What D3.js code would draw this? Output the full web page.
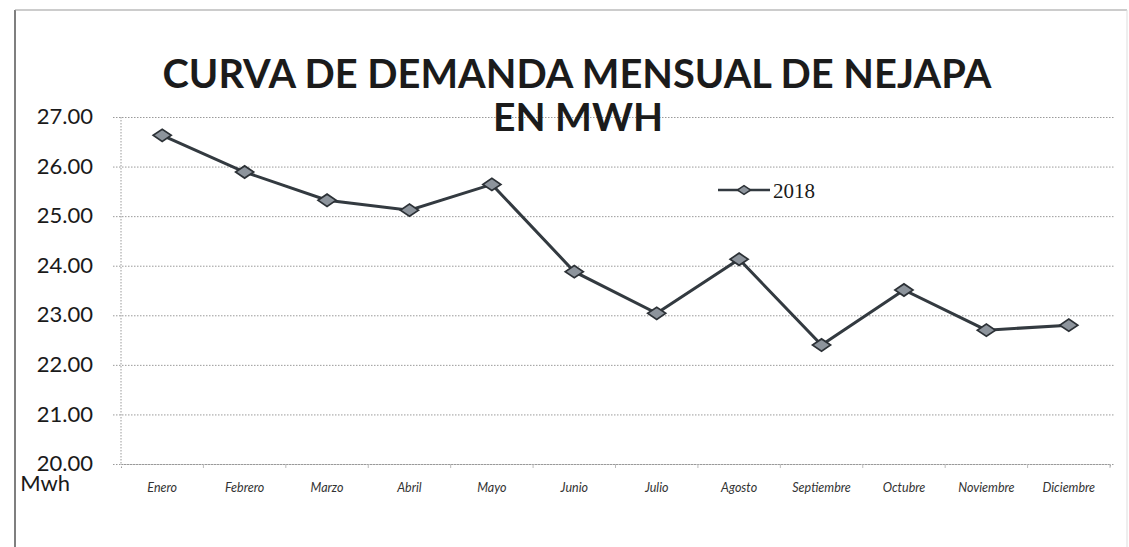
<!DOCTYPE html>
<html><head><meta charset="utf-8">
<script src="https://cdn.jsdelivr.net/npm/d3@7"></script>
<style>html,body{margin:0;padding:0;background:#fff;}svg{display:block;}</style>
</head><body>
<svg id="c" width="1129" height="547"></svg>
<script>
const months = ["Enero","Febrero","Marzo","Abril","Mayo","Junio","Julio","Agosto","Septiembre","Octubre","Noviembre","Diciembre"];
const values2018 = [26.63,25.89,25.32,25.12,25.64,23.88,23.04,24.13,22.40,23.51,22.70,22.80];
const yTicks = [20,21,22,23,24,25,26,27];
const seriesName = "2018";
const titleLines = ["CURVA DE DEMANDA MENSUAL DE NEJAPA","EN MWH"];
const yUnit = "Mwh";

const svg = d3.select("#c");
const mLeft = 121, mRight = 1110, mTop = 117, mBottom = 464;

// frame
svg.append("line").attr("x1",15).attr("x2",15).attr("y1",10).attr("y2",547).attr("stroke","#555").attr("stroke-width",1.5);
svg.append("line").attr("x1",15).attr("x2",1127).attr("y1",10).attr("y2",10).attr("stroke","#999").attr("stroke-width",1.2);
svg.append("line").attr("x1",1127).attr("x2",1127).attr("y1",10).attr("y2",547).attr("stroke","#ddd").attr("stroke-width",1);

const x = d3.scaleBand().domain(months).range([mLeft,mRight]);
const y = d3.scaleLinear().domain([20,27]).range([mBottom,mTop]);

// gridlines
const grid = svg.append("g").attr("transform",`translate(${mLeft},0)`)
  .call(d3.axisLeft(y).tickValues(yTicks).tickSize(-(mRight-mLeft+5)).tickFormat(""));
grid.select(".domain").remove();
grid.selectAll(".tick line").attr("stroke","#9a9a9a").attr("stroke-width",1).attr("stroke-dasharray","1.5,1.5").attr("x1",-8);

// y axis line
svg.append("line").attr("x1",mLeft).attr("x2",mLeft).attr("y1",mTop).attr("y2",mBottom).attr("stroke","#9a9a9a").attr("stroke-dasharray","1.5,1.5");

// y labels
const yl = svg.append("g").attr("transform",`translate(93,0)`)
  .call(d3.axisLeft(y).tickValues(yTicks).tickSize(0).tickPadding(0).tickFormat(d3.format(".2f")));
yl.select(".domain").remove();
yl.selectAll("text").attr("font-family","Lato, sans-serif").attr("font-size",22).attr("fill","#1a1a1a").attr("dy","0.3em");
// unit label as second line of the lowest tick label
yl.selectAll(".tick").filter(d => d === yTicks[0]).select("text")
  .append("tspan").attr("x",-23).attr("dy",19.5).text(yUnit);

// x axis
const xa = svg.append("g").attr("transform",`translate(0,${mBottom})`)
  .call(d3.axisBottom(x).tickSize(4).tickPadding(15));
xa.select(".domain").attr("stroke","#9a9a9a").attr("stroke-dasharray","1.5,1.5");
xa.selectAll(".tick line").attr("stroke","#bbb").attr("transform",`translate(${x.bandwidth()/2},0)`);
xa.selectAll("text").attr("font-family","Lato, sans-serif").attr("font-size",12.5).attr("font-style","italic").attr("fill","#333");

// title
svg.append("text").attr("x",577).attr("y",88).attr("text-anchor","middle")
  .attr("font-family","Lato, sans-serif").attr("font-weight",700).attr("font-size",40).attr("fill","#1b1b1b")
  .attr("textLength",829).attr("lengthAdjust","spacingAndGlyphs").text(titleLines[0]);
svg.append("text").attr("x",578).attr("y",131).attr("text-anchor","middle")
  .attr("font-family","Lato, sans-serif").attr("font-weight",700).attr("font-size",38).attr("fill","#1b1b1b")
  .attr("textLength",170).attr("lengthAdjust","spacingAndGlyphs").text(titleLines[1]);

// line
const cx = d => x(d) + x.bandwidth()/2;
const line = d3.line().x((d,i)=>cx(months[i])).y(d=>y(d));
svg.append("path").datum(values2018).attr("d",line).attr("fill","none").attr("stroke","#333a40").attr("stroke-width",3);

const diamond = d3.symbol().type(d3.symbolDiamond).size(130);
svg.selectAll(".pt").data(values2018).join("path").attr("class","pt")
  .attr("d",diamond).attr("transform",(d,i)=>`translate(${cx(months[i])},${y(d)}) rotate(90) scale(1,0.85)`)
  .attr("fill","#8d949c").attr("stroke","#2c3136").attr("stroke-width",1.8);

// legend
svg.append("line").attr("x1",718).attr("x2",770).attr("y1",190).attr("y2",190).attr("stroke","#333a40").attr("stroke-width",2.5);
svg.append("path").attr("d",d3.symbol().type(d3.symbolDiamond).size(70)).attr("transform","translate(744,190) rotate(90) scale(1,0.85)")
  .attr("fill","#8d949c").attr("stroke","#2c3136").attr("stroke-width",1.5);
svg.append("text").attr("x",773).attr("y",198).attr("font-family","'Liberation Serif', serif").attr("font-size",21).attr("fill","#1a1a1a").text(seriesName);
</script>
</body></html>
